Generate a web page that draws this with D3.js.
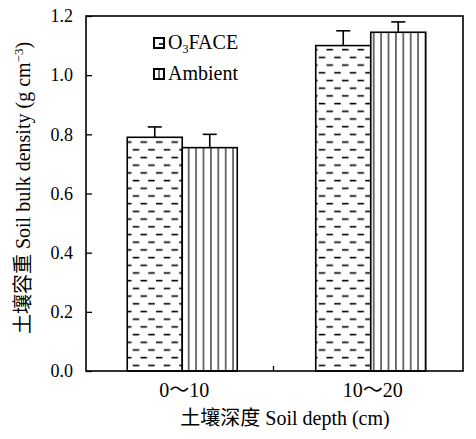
<!DOCTYPE html>
<html>
<head>
<meta charset="utf-8">
<script src="https://cdn.jsdelivr.net/npm/d3@7"></script>
<style>
  body { margin: 0; background: #fff; }
  text { font-family: "Liberation Serif", "Noto Sans CJK SC", serif; fill: #000; }
</style>
</head>
<body>
<div id="container"></div>
<script>
let w = 476;
let h = 439;

// data
let depths = ["0～10", "10～20"];
let seriesNames = ["O3FACE", "Ambient"];
let o3Values = [0.79, 1.10];
let o3Errors = [0.035, 0.05];
let ambientValues = [0.755, 1.145];
let ambientErrors = [0.045, 0.035];
let yTicks = [0, 0.2, 0.4, 0.6, 0.8, 1.0, 1.2];

let margin = {left: 86, right: 13, top: 16, bottom: 68};

let viz = d3.select("#container")
  .append("svg")
    .attr("width", w)
    .attr("height", h)
    .style("background-color", "white");

let defs = viz.append("defs");

// dashed pattern (O3FACE)
let dash = defs.append("pattern")
  .attr("id", "dashes")
  .attr("patternUnits", "userSpaceOnUse")
  .attr("width", 15.5)
  .attr("height", 15.4);
dash.append("rect").attr("width", 15.5).attr("height", 15.4).attr("fill", "white");
dash.append("line").attr("x1", 1).attr("x2", 7.5).attr("y1", 3.5).attr("y2", 3.5)
  .attr("stroke", "black").attr("stroke-width", 1.6);
dash.append("line").attr("x1", 8.75).attr("x2", 15.25).attr("y1", 11.2).attr("y2", 11.2)
  .attr("stroke", "black").attr("stroke-width", 1.6);

// vertical line pattern (Ambient)
let vert = defs.append("pattern")
  .attr("id", "verticals")
  .attr("patternUnits", "userSpaceOnUse")
  .attr("width", 7.4)
  .attr("height", 10);
vert.append("rect").attr("width", 7.4).attr("height", 10).attr("fill", "white");
vert.append("line").attr("x1", 3.7).attr("x2", 3.7).attr("y1", 0).attr("y2", 10)
  .attr("stroke", "black").attr("stroke-width", 1.1);

let fills = {"O3FACE": "url(#dashes)", "Ambient": "url(#verticals)"};

let xScale = d3.scaleBand()
  .domain(depths)
  .range([margin.left, w - margin.right])
  .padding(0);

let barW = 55;
let inner = d3.scaleBand()
  .domain(seriesNames)
  .range([-barW, barW])
  .padding(0);

let yScale = d3.scaleLinear()
  .domain([0, 1.2])
  .range([h - margin.bottom, margin.top]);

let data = [];
depths.forEach((d, i) => {
  data.push({depth: d, name: "O3FACE", value: o3Values[i], err: o3Errors[i]});
  data.push({depth: d, name: "Ambient", value: ambientValues[i], err: ambientErrors[i]});
});

let groupCenter = (d) => xScale(d) + xScale.bandwidth() / 2 + 2;

// error bars (drawn first so bar outlines sit on top)
let errGroup = viz.append("g").attr("class", "errors");
data.forEach((d) => {
  let cx = groupCenter(d.depth) + inner(d.name) + inner.bandwidth() / 2;
  errGroup.append("line")
    .attr("x1", cx).attr("x2", cx)
    .attr("y1", yScale(d.value)).attr("y2", yScale(d.value + d.err))
    .attr("stroke", "black").attr("stroke-width", 1.6);
  errGroup.append("line")
    .attr("x1", cx - 7).attr("x2", cx + 7)
    .attr("y1", yScale(d.value + d.err)).attr("y2", yScale(d.value + d.err))
    .attr("stroke", "black").attr("stroke-width", 1.6);
});

// bars
viz.append("g").attr("class", "bars")
  .selectAll("rect").data(data).enter()
  .append("rect")
    .attr("x", (d) => groupCenter(d.depth) + inner(d.name))
    .attr("y", (d) => yScale(d.value))
    .attr("width", inner.bandwidth())
    .attr("height", (d) => yScale(0) - yScale(d.value))
    .attr("fill", (d) => fills[d.name])
    .attr("stroke", "black")
    .attr("stroke-width", 1.6);

// y axis, ticks pointing inward
let yAxis = d3.axisRight(yScale)
  .tickValues(yTicks)
  .tickSize(6)
  .tickFormat("");
let yAxisGroup = viz.append("g").attr("class", "yaxis")
  .attr("transform", "translate(" + margin.left + ",0)")
  .call(yAxis);
yAxisGroup.select(".domain").remove();
yAxisGroup.selectAll(".tick line").attr("stroke", "black").attr("stroke-width", 1.3);

viz.append("g").attr("class", "ylabels")
  .selectAll("text").data(yTicks).enter()
  .append("text")
    .attr("x", margin.left - 13)
    .attr("y", (d) => yScale(d))
    .attr("dy", "0.35em")
    .attr("text-anchor", "end")
    .attr("font-size", 18)
    .text((d) => d3.format(".1f")(d));

// x labels and the separating tick between groups
viz.append("g").attr("class", "xlabels")
  .selectAll("text").data(depths).enter()
  .append("text")
    .attr("x", (d) => groupCenter(d) + 2)
    .attr("y", 397)
    .attr("text-anchor", "middle")
    .attr("font-size", 20)
    .text((d) => d);

let sepX = xScale(depths[1]) - 1;
viz.append("line")
  .attr("x1", sepX).attr("x2", sepX)
  .attr("y1", yScale(0)).attr("y2", yScale(0) - 5)
  .attr("stroke", "black").attr("stroke-width", 1.3);

// frame
viz.append("rect")
  .attr("x", margin.left)
  .attr("y", margin.top)
  .attr("width", w - margin.left - margin.right)
  .attr("height", h - margin.top - margin.bottom)
  .attr("fill", "none")
  .attr("stroke", "black")
  .attr("stroke-width", 1.6);

// axis titles
viz.append("text")
  .attr("x", 285)
  .attr("y", 425)
  .attr("text-anchor", "middle")
  .attr("font-size", 20)
  .text("土壤深度 Soil depth (cm)");

let yTitle = viz.append("text")
  .attr("transform", "translate(30,188) rotate(-90)")
  .attr("text-anchor", "middle")
  .attr("font-size", 20);
yTitle.append("tspan").text("土壤容重 Soil bulk density (g cm");
yTitle.append("tspan").attr("dy", -7).attr("font-size", 13).text("−3");
yTitle.append("tspan").attr("dy", 7).text(")");

// legend
let legend = viz.append("g").attr("class", "legend");
seriesNames.forEach((name, i) => {
  let ly = 38 + i * 31;
  legend.append("rect")
    .attr("x", 154).attr("y", ly)
    .attr("width", 10).attr("height", 10)
    .attr("fill", name === "O3FACE" ? "white" : fills[name])
    .attr("stroke", "black").attr("stroke-width", 2);
  if (name === "O3FACE") {
    legend.append("line")
      .attr("x1", 159).attr("x2", 164).attr("y1", ly + 6).attr("y2", ly + 6)
      .attr("stroke", "black").attr("stroke-width", 1.6);
  }
  let t = legend.append("text")
    .attr("x", 168).attr("y", ly + 11)
    .attr("font-size", 20);
  if (name === "O3FACE") {
    t.append("tspan").text("O");
    t.append("tspan").attr("dy", 4).attr("font-size", 12).text("3");
    t.append("tspan").attr("dy", -4).text("FACE");
  } else {
    t.text(name);
  }
});
</script>
</body>
</html>
